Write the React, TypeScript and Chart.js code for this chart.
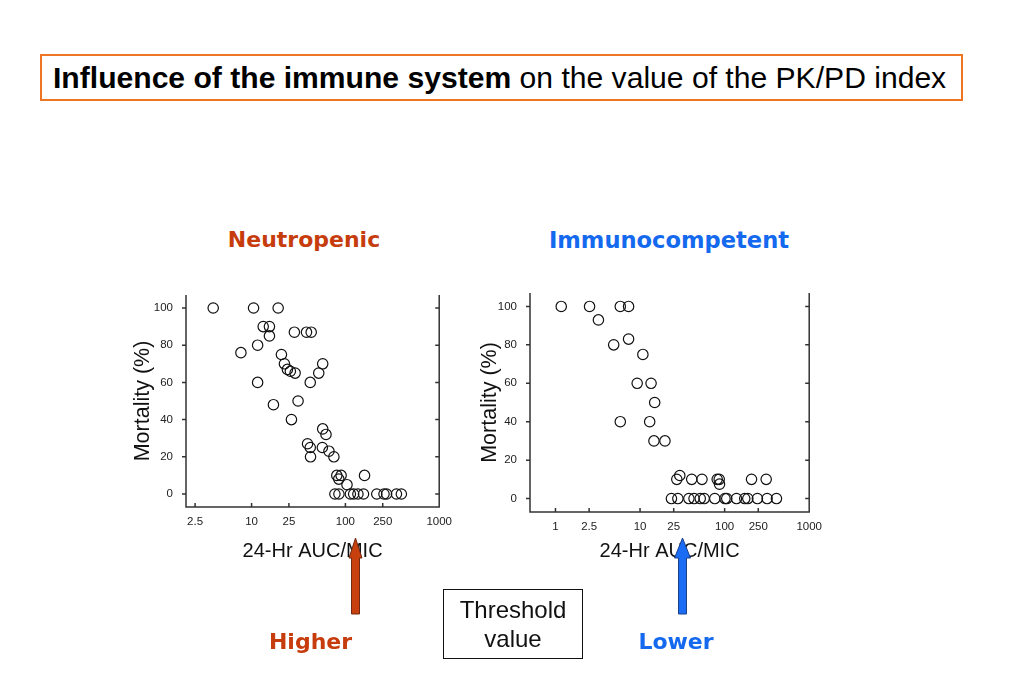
import React, { useEffect, useRef } from "react";
import { Chart, registerables } from "chart.js";

Chart.register(...registerables);

// ---- Data ----
const neutropenicAuc = [
  3.9, 10.5, 19.2, 13.3, 15.5, 15.5, 28.6, 38.5, 43.2, 7.7, 11.6, 11.6, 20.8, 22.4, 24.1, 25.9,
  29.1, 42.2, 52, 57.3, 17.1, 31.3, 26.6, 57.3, 62.1, 39.5, 42.2, 42.5, 56.8, 66.8, 75.4,
  81, 90, 85, 104, 160,
  77.3, 85.3, 113, 122.5, 136, 156, 216, 258, 275, 350, 395,
];
const neutropenicMortality = [
  100, 100, 100, 90, 90, 85, 87, 87, 87, 76, 80, 60, 75, 70, 67, 66,
  65, 60, 65, 70, 48, 50, 40, 35, 32, 27, 25, 20, 25, 23, 20,
  10, 10, 8, 5, 10,
  0, 0, 0, 0, 0, 0, 0, 0, 0, 0, 0,
];

const immunocompetentAuc = [
  1.17, 2.53, 3.22, 5.84, 7.32, 4.88, 7.32, 10.8, 9.25, 13.5, 14.9, 5.84, 13.0, 14.6, 19.7,
  27.2, 29.5, 40.8, 54, 81.7, 86.3, 87, 208, 310,
  23.5, 28, 37.8, 43.5, 51.5, 57.3, 76.5, 101, 106, 138, 173, 188, 244, 318, 410,
];
const immunocompetentMortality = [
  100, 100, 93, 100, 100, 80, 83, 75, 60, 60, 50, 40, 40, 30, 30,
  10, 12, 10, 10, 10, 10, 7.5, 10, 10,
  0, 0, 0, 0, 0, 0, 0, 0, 0, 0, 0, 0, 0, 0, 0,
];

const neutropenicXTicks = [2.5, 10, 25, 100, 250, 1000];
const immunocompetentXTicks = [1, 2.5, 10, 25, 100, 250, 1000];
const mortalityTicks = [0, 20, 40, 60, 80, 100];

const xAxisTitle = "24-Hr AUC/MIC";
const yAxisTitle = "Mortality (%)";

const RED = "#C63C0C";
const BLUE = "#1469EE";
const TICK_FONT = "'Liberation Sans', Arial, sans-serif";
const SANS = "'Liberation Sans', Arial, sans-serif";
const TICK_SIZE = 11.5;

type PanelSpec = {
  auc: number[];
  mortality: number[];
  xMin: number;
  xTicks: number[];
  yWidth: number;
  xHeight: number;
  padRight: number;
  yTitlePad: number;
  xTitlePad: number;
};

const framePlugin = {
  id: "frame",
  afterDraw(chart: any) {
    const { ctx, chartArea } = chart;
    const { left, right, top, bottom } = chartArea;
    const x = chart.scales.x;
    const y = chart.scales.y;
    const xTicks: number[] = chart.options.plugins.frame.xTicks;
    ctx.save();
    ctx.strokeStyle = "#333";
    ctx.lineWidth = 1.5;
    ctx.beginPath();
    ctx.moveTo(left, top);
    ctx.lineTo(left, bottom);
    ctx.lineTo(right, bottom);
    ctx.lineTo(right, top);
    for (const v of mortalityTicks) {
      const py = y.getPixelForValue(v);
      ctx.moveTo(left - 4, py);
      ctx.lineTo(left, py);
      ctx.moveTo(right, py);
      ctx.lineTo(right - 4, py);
    }
    for (const v of xTicks) {
      const px = x.getPixelForValue(v);
      if (px > left && px < right - 1) {
        ctx.moveTo(px, bottom);
        ctx.lineTo(px, bottom - 4);
      }
    }
    ctx.stroke();
    ctx.restore();
  },
};

function Panel({ spec, style, width, height }: { spec: PanelSpec; style: React.CSSProperties; width: number; height: number }) {
  const ref = useRef<HTMLCanvasElement>(null);
  useEffect(() => {
    if (!ref.current) return;
    const chart = new Chart(ref.current, {
      type: "scatter",
      data: {
        datasets: [
          {
            data: spec.auc.map((a, i) => ({ x: a, y: spec.mortality[i] })),
            pointStyle: "circle",
            pointRadius: 5.2,
            pointBorderWidth: 1.2,
            pointBackgroundColor: "rgba(0,0,0,0)",
            pointBorderColor: "#111",
            showLine: false,
          },
        ],
      },
      options: {
        responsive: false,
        animation: false,
        events: [],
        layout: { padding: { top: 21, right: spec.padRight, left: 0, bottom: 0 } },
        plugins: {
          legend: { display: false },
          tooltip: { enabled: false },
          frame: { xTicks: spec.xTicks },
        } as any,
        scales: {
          x: {
            type: "logarithmic",
            min: spec.xMin,
            max: 1000,
            grid: { display: false, drawTicks: false },
            border: { display: false },
            ticks: {
              autoSkip: false,
              maxRotation: 0,
              padding: 8,
              color: "#222",
              font: { family: TICK_FONT, size: TICK_SIZE },
              callback: (v: any) => String(v),
            },
            title: {
              display: true,
              text: xAxisTitle,
              color: "#111",
              font: { family: SANS, size: 20 },
              padding: { top: 0, bottom: spec.xTitlePad },
            },
            afterBuildTicks: (s: any) => {
              s.ticks = spec.xTicks.map((v) => ({ value: v, major: false }));
            },
            afterFit: (s: any) => {
              s.height = spec.xHeight;
            },
          },
          y: {
            type: "linear",
            min: -7,
            max: 107,
            grid: { display: false, drawTicks: false },
            border: { display: false },
            ticks: {
              padding: 13,
              color: "#222",
              font: { family: TICK_FONT, size: TICK_SIZE },
            },
            title: {
              display: true,
              text: yAxisTitle,
              color: "#111",
              font: { family: SANS, size: 21.5 },
              padding: { top: spec.yTitlePad, bottom: 0 },
            },
            afterBuildTicks: (s: any) => {
              s.ticks = mortalityTicks.map((v) => ({ value: v }));
            },
            afterFit: (s: any) => {
              s.width = spec.yWidth;
            },
          },
        },
      } as any,
      plugins: [framePlugin as any],
    });
    return () => chart.destroy();
  }, []);
  return <canvas ref={ref} width={width} height={height} style={{ position: "absolute", width, height, ...style }} />;
}

const neutropenicSpec: PanelSpec = {
  auc: neutropenicAuc,
  mortality: neutropenicMortality,
  xMin: 2,
  xTicks: neutropenicXTicks,
  yWidth: 66,
  xHeight: 67,
  padRight: 18,
  yTitlePad: 10,
  xTitlePad: 11,
};

const immunocompetentSpec: PanelSpec = {
  auc: immunocompetentAuc,
  mortality: immunocompetentMortality,
  xMin: 0.5,
  xTicks: immunocompetentXTicks,
  yWidth: 60,
  xHeight: 60,
  padRight: 20,
  yTitlePad: 7,
  xTitlePad: 9,
};

const headerStyle: React.CSSProperties = {
  position: "absolute",
  fontFamily: "'DejaVu Sans', Verdana, sans-serif",
  fontWeight: "bold",
  fontSize: 22,
  lineHeight: "26px",
  whiteSpace: "nowrap",
  transform: "translateX(-50%)",
};

export default function App() {
  return (
    <div
      style={{
        position: "absolute",
        left: 0,
        top: 0,
        width: 1024,
        height: 683,
        background: "#fff",
        overflow: "hidden",
      }}
    >
      <div
        style={{
          position: "absolute",
          left: 40,
          top: 54,
          width: 923,
          height: 47,
          boxSizing: "border-box",
          border: "2px solid #EE7623",
          display: "flex",
          alignItems: "center",
          paddingLeft: 11,
          fontFamily: SANS,
          fontSize: 30.1,
          color: "#000",
          whiteSpace: "nowrap",
        }}
      >
        <span style={{ fontWeight: "bold" }}>Influence of the immune system</span>
        <span>&nbsp;on the value of the PK/PD index</span>
      </div>

      <div style={{ ...headerStyle, left: 304, top: 227, color: RED }}>Neutropenic</div>
      <div style={{ ...headerStyle, left: 669, top: 227, color: BLUE, fontSize: 22.6 }}>Immunocompetent</div>

      <Panel spec={neutropenicSpec} width={340} height={300} style={{ left: 120, top: 274 }} />
      <Panel spec={immunocompetentSpec} width={360} height={300} style={{ left: 470, top: 272 }} />

      <svg width={1024} height={683} style={{ position: "absolute", left: 0, top: 0, pointerEvents: "none" }}>
        <polygon
          points="355.5,538 362,558 359.5,558 359.5,614 351.5,614 351.5,558 349,558"
          fill="#C8400E"
          stroke="#6e2a12"
          strokeWidth={1}
        />
        <polygon
          points="682.5,538 690.5,558 686.5,558 686.5,614 678.5,614 678.5,558 674.5,558"
          fill="#1A6CF5"
          stroke="#1c3f8a"
          strokeWidth={1}
        />
      </svg>

      <div
        style={{
          position: "absolute",
          left: 443,
          top: 589,
          width: 140,
          height: 70,
          boxSizing: "border-box",
          border: "1.5px solid #111",
          fontFamily: SANS,
          fontSize: 24,
          lineHeight: "29px",
          textAlign: "center",
          paddingTop: 5,
          color: "#111",
        }}
      >
        Threshold
        <br />
        value
      </div>

      <div style={{ ...headerStyle, left: 310.5, top: 629, color: RED }}>Higher</div>
      <div style={{ ...headerStyle, left: 676, top: 629, color: BLUE }}>Lower</div>
    </div>
  );
}
